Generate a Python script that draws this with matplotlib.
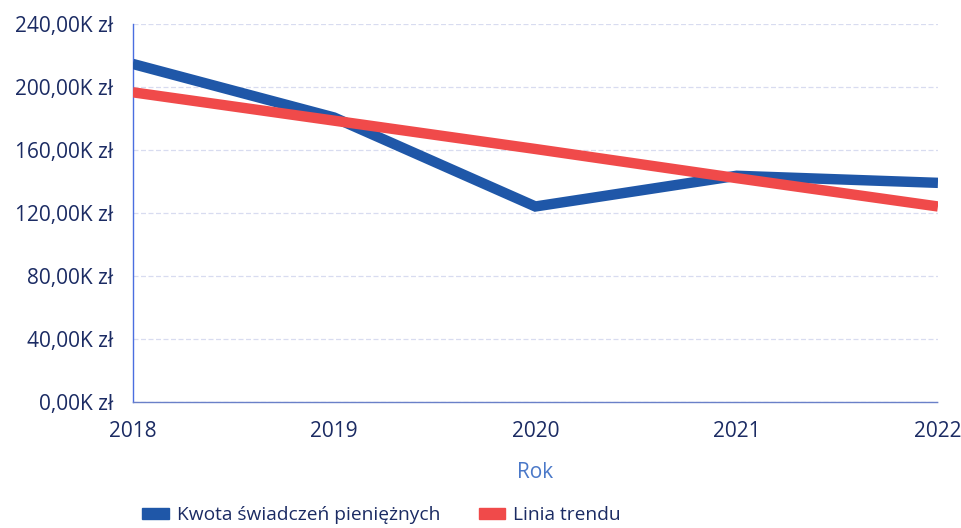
import matplotlib
matplotlib.use('Agg')
import matplotlib.pyplot as plt
from matplotlib.patches import Patch
from matplotlib.ticker import FuncFormatter

# Dane
lata = [2018, 2019, 2020, 2021, 2022]
kwota = [214500, 180500, 124000, 143500, 139000]
trend = [196500, 178500, 160500, 142000, 124000]
y_ticks = [0, 40000, 80000, 120000, 160000, 200000, 240000]

plt.rcParams['font.family'] = ['Open Sans', 'DejaVu Sans']

navy = '#1b2b63'
blue = '#1f57a8'
red = '#f04a4a'

fig = plt.figure(figsize=(9.62, 5.28), dpi=100)
ax = fig.add_axes([0.138, 0.239, 0.837, 0.716])

ax.plot(lata, kwota, color=blue, lw=7.5, solid_joinstyle='miter', solid_capstyle='butt', zorder=3)
ax.plot(lata, trend, color=red, lw=7.5, solid_capstyle='butt', zorder=4)

ax.set_xlim(2018, 2022)
ax.set_ylim(0, 240000)
ax.set_xticks(lata)
ax.set_yticks(y_ticks)
ax.yaxis.set_major_formatter(FuncFormatter(lambda v, p: f'{v / 1000:.2f}'.replace('.', ',') + 'K zł'))

ax.grid(axis='y', color='#d8dcf0', linestyle=(0, (4, 2)), lw=0.9)
ax.set_axisbelow(True)
for s in ['top', 'right']:
    ax.spines[s].set_visible(False)
ax.spines['left'].set_color('#4a6ee0')
ax.spines['left'].set_linewidth(1.0)
ax.spines['bottom'].set_color('#6a80c8')
ax.spines['bottom'].set_linestyle((0, (3, 1)))
ax.spines['bottom'].set_linewidth(1.0)

ax.tick_params(axis='both', length=0, labelsize=15, labelcolor=navy)
ax.tick_params(axis='y', pad=14)
ax.tick_params(axis='x', pad=14)

ax.set_xlabel('Rok', fontsize=15, color='#4a78c8', labelpad=14)

handles = [Patch(color=blue, label='Kwota świadczeń pieniężnych'),
           Patch(color=red, label='Linia trendu')]
fig.legend(handles=handles, loc='lower left', bbox_to_anchor=(0.13, -0.025), ncol=2,
           frameon=False, fontsize=13.8, handlelength=1.4, handleheight=0.5,
           columnspacing=2.0, handletextpad=0.4, labelcolor=navy)

fig.savefig('out.png', dpi=100)
